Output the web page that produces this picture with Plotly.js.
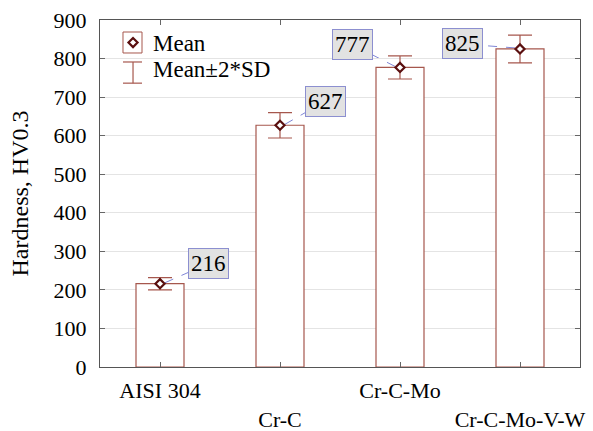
<!DOCTYPE html>
<html>
<head>
<meta charset="utf-8">
<script src="https://cdn.plot.ly/plotly-3.0.1.min.js"></script>
<style>html,body{margin:0;padding:0;background:#fff;}#chart{width:593px;height:431px;}</style>
</head>
<body>
<div id="chart"></div>
<script>
// ---- data ----
const categories = ["AISI 304", "Cr-C", "Cr-C-Mo", "Cr-C-Mo-V-W"];
const meanValues = [216, 627, 777, 825];
const twoSD = [16, 33, 30, 36];
const valueLabels = ["216", "627", "777", "825"];
const yTicks = [0, 100, 200, 300, 400, 500, 600, 700, 800, 900];

// ---- styling / layout helpers (not data) ----
const labelOffsets = [[48, -20], [45, -24], [-48, -23], [-58, -5]];
const brown = "#a6574d";
const markColor = "#5a0f0f";
const serif = "Liberation Serif, Times New Roman, serif";

const idx = categories.map((c, i) => i);
const tickText = categories.map((c, i) => (i % 2 === 1 ? "<br>" + c : c));

const markerStyle = { symbol: "diamond", size: 7, color: "#ffffff", line: { color: markColor, width: 2.2 } };

const traces = [
  {
    type: "bar",
    x: idx,
    y: meanValues,
    width: 0.4,
    marker: { color: "#ffffff", line: { color: brown, width: 1.2 } },
    showlegend: false,
    hoverinfo: "skip"
  },
  {
    type: "scatter",
    mode: "markers",
    x: idx,
    y: meanValues,
    error_y: { type: "data", array: twoSD, visible: true, color: brown, thickness: 1.2, width: 12 },
    marker: markerStyle,
    showlegend: false
  },
  {
    type: "scatter",
    mode: "markers",
    x: [0.0688],
    y: [0.935],
    xaxis: "x2",
    yaxis: "y2",
    marker: markerStyle,
    showlegend: false,
    hoverinfo: "skip"
  }
];

const annotations = idx.map((i) => ({
  x: i,
  y: meanValues[i],
  xref: "x",
  yref: "y",
  text: valueLabels[i],
  showarrow: true,
  arrowcolor: "rgba(0,0,0,0)",
  arrowwidth: 0.1,
  arrowhead: 0,
  ax: labelOffsets[i][0],
  ay: labelOffsets[i][1],
  bgcolor: "#e2e2e2",
  bordercolor: "#8c8fd0",
  borderwidth: 1,
  borderpad: 2,
  font: { family: serif, size: 23, color: "#000" }
}));

annotations.push(
  { xref: "paper", yref: "paper", x: 0.1063, y: 0.931, xanchor: "left", yanchor: "middle", text: "Mean", showarrow: false, font: { family: serif, size: 23, color: "#000" } },
  { xref: "paper", yref: "paper", x: 0.1063, y: 0.856, xanchor: "left", yanchor: "middle", text: "Mean±2*SD", showarrow: false, font: { family: serif, size: 23, color: "#000" } }
);

const shapes = idx.map((i) => ({
  type: "line",
  xref: "x",
  yref: "y",
  xsizemode: "pixel",
  ysizemode: "pixel",
  xanchor: i,
  yanchor: meanValues[i],
  x0: Math.sign(labelOffsets[i][0]) * 5,
  y0: 1,
  x1: labelOffsets[i][0],
  y1: -labelOffsets[i][1],
  line: { color: "#7f86d6", width: 1, dash: "dash" },
  layer: "below"
}));

shapes.push(
  { type: "rect", xref: "paper", yref: "paper", x0: 0.0479, x1: 0.0875, y0: 0.9049, y1: 0.9654, line: { color: brown, width: 1 }, fillcolor: "rgba(0,0,0,0)", layer: "below" },
  { type: "line", xref: "paper", yref: "paper", x0: 0.0688, x1: 0.0688, y0: 0.818, y1: 0.879, line: { color: brown, width: 1.2 } },
  { type: "line", xref: "paper", yref: "paper", x0: 0.0479, x1: 0.0875, y0: 0.879, y1: 0.879, line: { color: brown, width: 1.2 } },
  { type: "line", xref: "paper", yref: "paper", x0: 0.0479, x1: 0.0875, y0: 0.818, y1: 0.818, line: { color: brown, width: 1.2 } }
);

const layout = {
  width: 593,
  height: 431,
  margin: { l: 100, r: 13, t: 20, b: 64 },
  paper_bgcolor: "#ffffff",
  plot_bgcolor: "#ffffff",
  font: { family: serif, size: 22, color: "#000" },
  showlegend: false,
  xaxis: {
    type: "linear",
    range: [-0.5, 3.5],
    tickvals: idx,
    ticktext: tickText,
    ticks: "inside",
    ticklen: 5,
    tickcolor: "#666",
    showgrid: false,
    zeroline: false,
    showline: true,
    linecolor: "#555",
    linewidth: 1,
    mirror: "ticks",
    ticklabelstandoff: 4,
    tickfont: { family: serif, size: 22, color: "#000" }
  },
  yaxis: {
    range: [0, 900],
    tickvals: yTicks,
    ticks: "inside",
    ticklen: 5,
    tickcolor: "#666",
    showgrid: true,
    gridcolor: "#e4e4e4",
    zeroline: false,
    showline: true,
    linecolor: "#555",
    linewidth: 1,
    mirror: "ticks",
    ticklabelstandoff: 8,
    tickfont: { family: serif, size: 22, color: "#000" },
    title: { text: "Hardness, HV0.3", font: { family: serif, size: 24, color: "#000" }, standoff: 18 }
  },
  xaxis2: { overlaying: "x", range: [0, 1], visible: false, fixedrange: true },
  yaxis2: { overlaying: "y", range: [0, 1], visible: false, fixedrange: true },
  annotations: annotations,
  shapes: shapes
};

Plotly.newPlot("chart", traces, layout, { displayModeBar: false, staticPlot: true });
</script>
</body>
</html>
